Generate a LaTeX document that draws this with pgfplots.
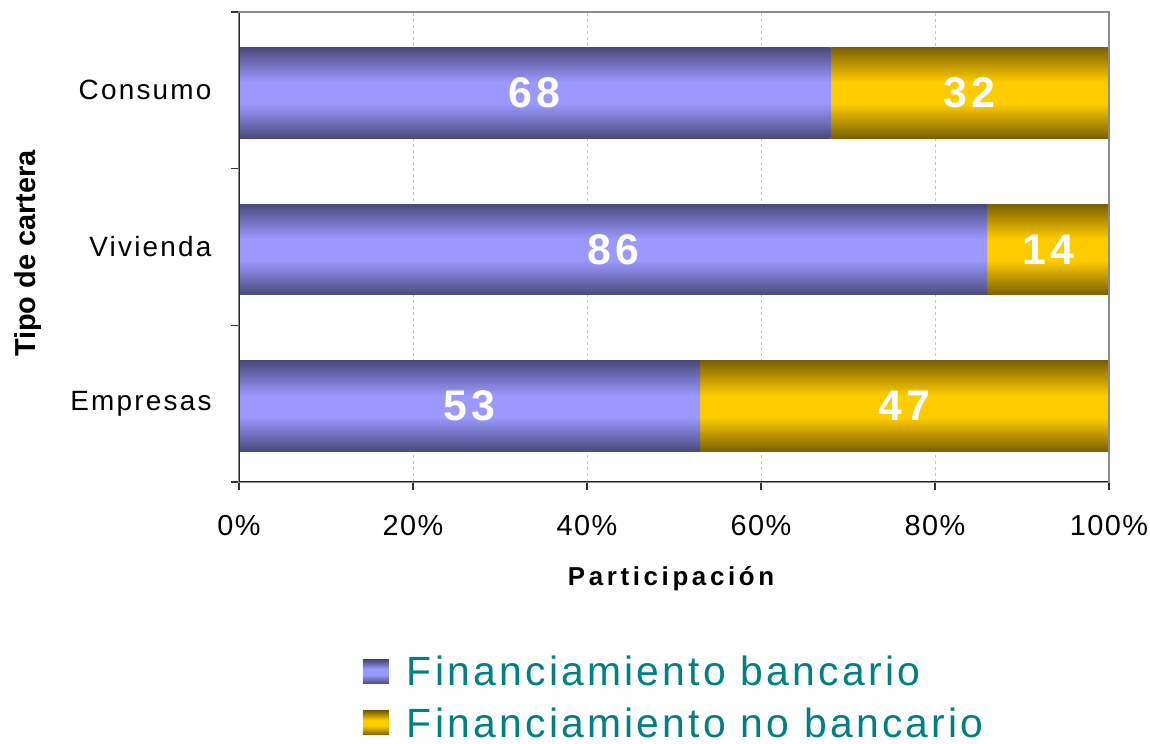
\documentclass[border=0pt]{standalone}
\usepackage{pgfplots}
\pgfplotsset{compat=1.18}
\usepackage{fontspec}
\setmainfont{Liberation Sans}
\newfontfamily\lsA[LetterSpace=5]{Liberation Sans}
\newfontfamily\lsY[LetterSpace=8]{Liberation Sans}
\newfontfamily\lsL[LetterSpace=8]{Liberation Sans}
\newfontfamily\lsB[LetterSpace=10]{Liberation Sans}
\newfontfamily\lsC[LetterSpace=14]{Liberation Sans}
\definecolor{bluelight}{HTML}{9999FF}
\definecolor{bluedark}{HTML}{4A4A7C}
\definecolor{goldlight}{HTML}{FFCC00}
\definecolor{golddark}{HTML}{7A6000}
\definecolor{legteal}{HTML}{008080}
\definecolor{gridgray}{HTML}{C8C8C8}
\pgfdeclareverticalshading{bluebar}{100bp}{color(0bp)=(bluedark); color(25bp)=(bluedark); color(44bp)=(bluelight); color(56bp)=(bluelight); color(75bp)=(bluedark); color(100bp)=(bluedark)}
\pgfdeclareverticalshading{goldbar}{100bp}{color(0bp)=(golddark); color(25bp)=(golddark); color(44bp)=(goldlight); color(56bp)=(goldlight); color(75bp)=(golddark); color(100bp)=(golddark)}
\tikzset{barlabel/.style={text=white, font=\fontsize{43}{48}\selectfont\lsB\bfseries}}
\pgfplotsset{
  mylegend/.style={legend image code/.code={\path[##1] (0bp,-12bp) rectangle (26bp,12bp); \path (42bp,0bp);}},
  base/.style={
    at={(239bp,262bp)}, anchor=south west,
    scale only axis, width=870bp, height=470bp,
    xbar stacked, bar width=0.58, bar shift=-0.016,
    xmin=0, xmax=100, ymin=-0.5, ymax=2.5,
  },
}
\begin{document}
\begin{tikzpicture}
\useasboundingbox (0,0) rectangle (1150bp,744bp);
% Empresas (with the axis decorations and the legend)
\begin{axis}[
  base, mylegend,
  xtick={0,20,40,60,80,100},
  xticklabels={0\%,20\%,40\%,60\%,80\%,100\%},
  ytick={-0.5,0.5,1.5,2.5},
  yticklabels={},
  extra y ticks={0,1,2},
  extra y tick labels={Empresas,Vivienda,Consumo},
  extra y tick style={major tick length=0pt, y tick style={draw=none}},
  major tick length=8bp,
  tick align=outside,
  xtick pos=bottom, ytick pos=left,
  xmajorgrids, major x grid style={gridgray, dashed, line width=0.8bp},
  axis line style={draw=gray!90, line width=1.6bp},
  tick style={draw=black!80, line width=1.2bp},
  xticklabel style={font=\fontsize{29}{32}\selectfont\lsA, yshift=-22bp},
  yticklabel style={font=\fontsize{28}{32}\selectfont\lsY, xshift=-24bp},
  xlabel={Participación},
  xlabel style={font=\fontsize{26}{30}\selectfont\lsC\bfseries, at={(axis description cs:0.4966,-0.206)}, anchor=center},
  ylabel={Tipo de cartera},
  ylabel style={font=\fontsize{29}{32}\selectfont\bfseries, at={(axis description cs:-0.2425,0.486)}, anchor=center},
  legend style={draw=none, fill=none, at={(axis description cs:0.1387,-0.362)}, anchor=north west,
    font=\fontsize{41}{46}\selectfont\lsL, text=legteal, row sep=16bp},
  legend cell align=left,
]
\addplot[draw=none, shading=bluebar] coordinates {(53,0)};
\addplot[draw=none, shading=goldbar] coordinates {(47,0)};
\legend{Financiamiento bancario, Financiamiento no bancario}
\end{axis}
% Vivienda
\begin{axis}[base, hide axis]
\addplot[draw=none, shading=bluebar] coordinates {(86,1)};
\addplot[draw=none, shading=goldbar] coordinates {(14,1)};
\end{axis}
% Consumo
\begin{axis}[base, hide axis]
\addplot[draw=none, shading=bluebar] coordinates {(68,2)};
\addplot[draw=none, shading=goldbar] coordinates {(32,2)};
\end{axis}
% overlay: axis lines and bar values
\begin{axis}[base, hide axis]
\draw[gray!90, line width=1.6bp] (rel axis cs:0,1) -- (rel axis cs:1,1) -- (rel axis cs:1,0);
\draw[black!85, line width=1.8bp] (rel axis cs:0,1) -- (rel axis cs:0,0) -- (rel axis cs:1,0);
\node[barlabel] at (axis cs:26.5,-0.016) {53};
\node[barlabel] at (axis cs:76.5,-0.016) {47};
\node[barlabel] at (axis cs:43,0.984) {86};
\node[barlabel] at (axis cs:93,0.984) {14};
\node[barlabel] at (axis cs:34,1.984) {68};
\node[barlabel] at (axis cs:84,1.984) {32};
\end{axis}
\end{tikzpicture}
\end{document}
